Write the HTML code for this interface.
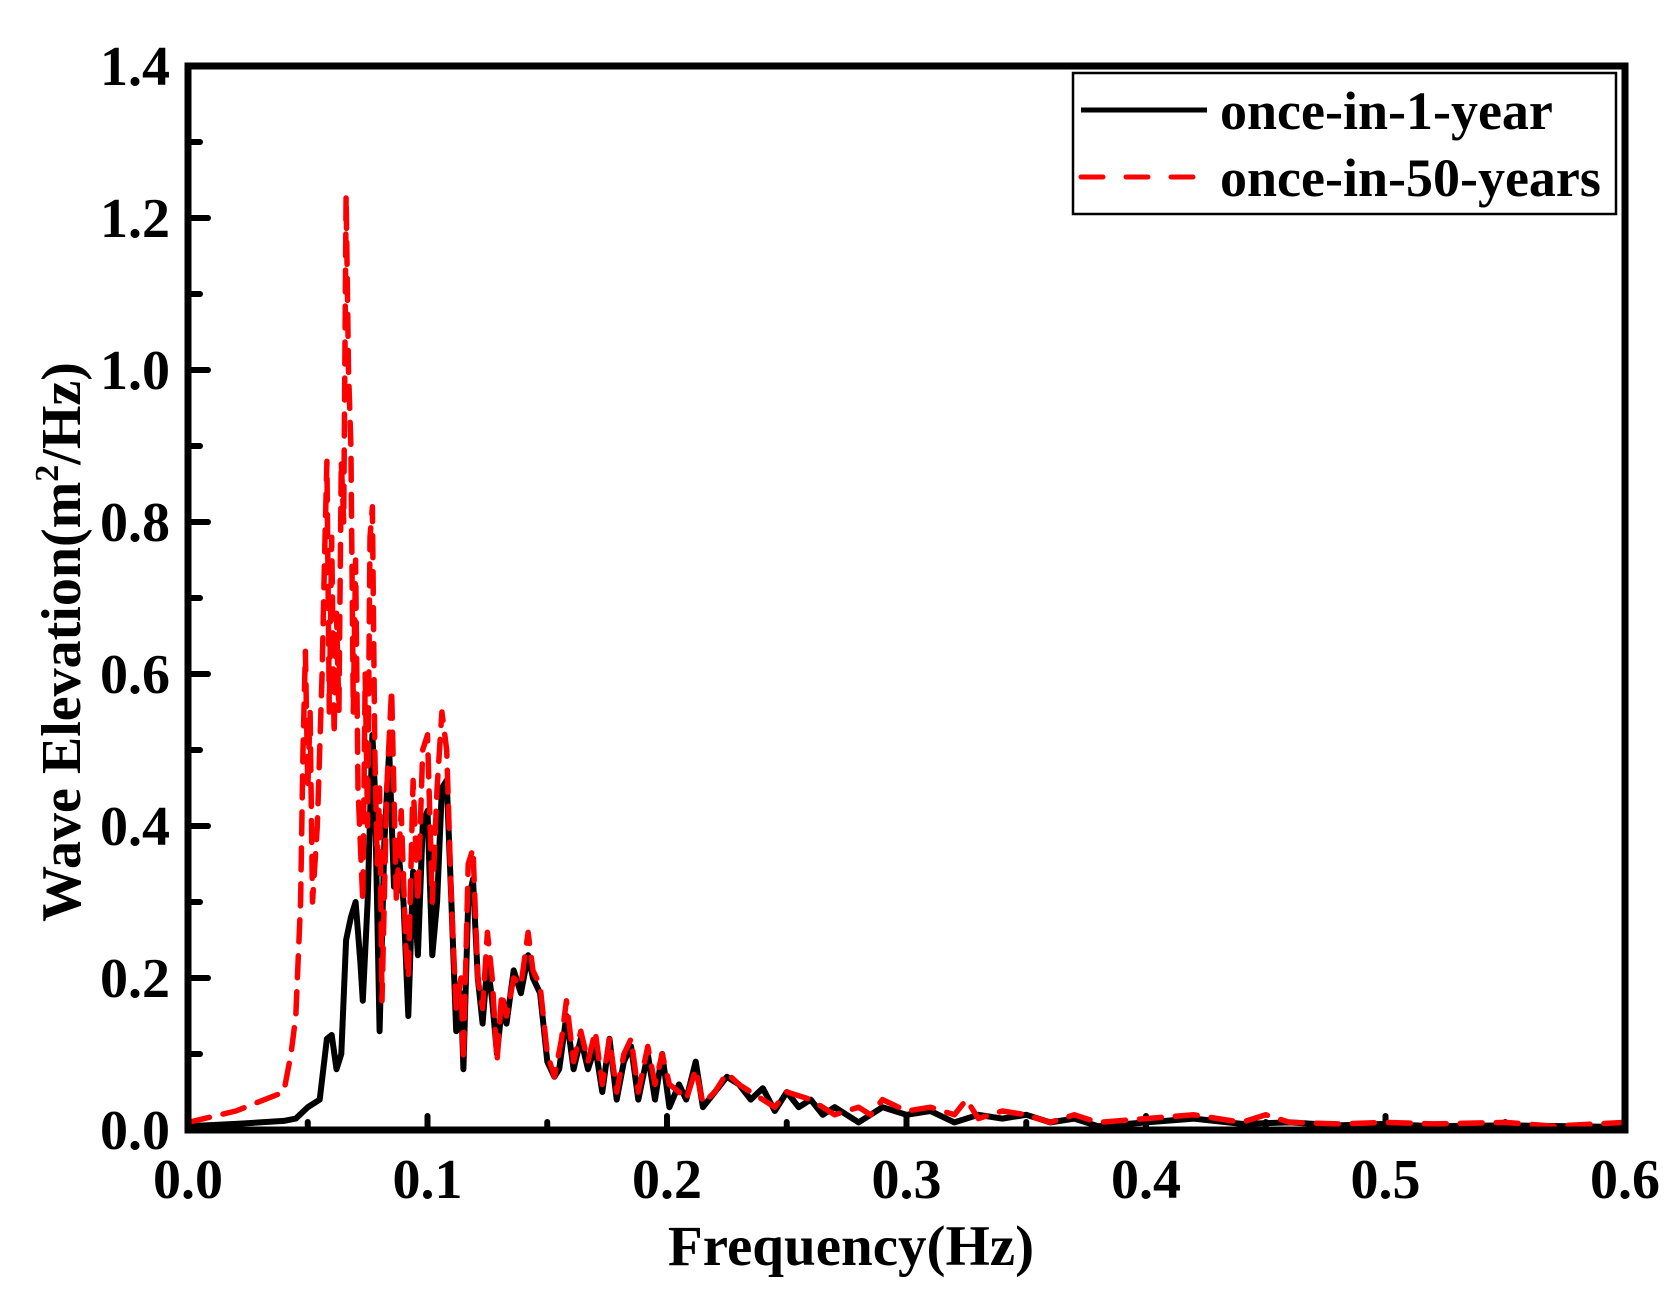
<!DOCTYPE html>
<html><head><meta charset="utf-8"><style>
html,body{margin:0;padding:0;background:#fff;}
svg{display:block;font-family:"Liberation Serif",serif;font-weight:bold;}
</style></head><body>
<svg id="s" width="1679" height="1297" viewBox="0 0 1679 1297" xmlns="http://www.w3.org/2000/svg">
<rect width="1679" height="1297" fill="#fff"/>
<g id="ticks" stroke="#000" stroke-width="6" stroke-linecap="round"></g>
<path id="blk" fill="none" stroke="#000" stroke-width="6" stroke-linejoin="round"/>
<path id="red" fill="none" stroke="#f00" stroke-width="5.5" stroke-dasharray="22 14" stroke-linecap="round" stroke-linejoin="round"/>
<rect x="188" y="66" width="1437" height="1064" fill="none" stroke="#000" stroke-width="7"/>
<g font-size="56" text-anchor="end" id="yl"></g>
<g font-size="56" text-anchor="middle" id="xl"></g>
<text x="851" y="1265" font-size="57" text-anchor="middle">Frequency(Hz)</text>
<text transform="translate(80,642) rotate(-90)" font-size="56" text-anchor="middle">Wave Elevation(m<tspan font-size="34" dy="-22">2</tspan><tspan dy="22">/Hz)</tspan></text>
<rect x="1073" y="73" width="543" height="141" fill="#fff" stroke="#000" stroke-width="2.5"/>
<line x1="1081" y1="110" x2="1207" y2="110" stroke="#000" stroke-width="5"/>
<line x1="1081" y1="177" x2="1207" y2="177" stroke="#f00" stroke-width="5" stroke-dasharray="22 23" stroke-linecap="round"/>
<text x="1220" y="129" font-size="54">once-in-1-year</text>
<text x="1220" y="196" font-size="54">once-in-50-years</text>
</svg>
<script>
var X=function(f){return 188+f*2395;},Y=function(v){return 1130-v*760;};
var b=[0,.005,.02,.008,.04,.012,.045,.015,.05,.03,.055,.04,.058,.12,.06,.125,.062,.08,.064,.1,.066,.25,.068,.28,.07,.3,.072,.22,.073,.17,.075,.3,.077,.52,.078,.45,.08,.13,.082,.38,.084,.5,.086,.32,.088,.36,.09,.3,.092,.15,.094,.34,.096,.23,.098,.4,.1,.42,.102,.23,.104,.3,.106,.45,.108,.46,.11,.3,.112,.13,.114,.18,.115,.08,.117,.3,.119,.33,.121,.2,.123,.14,.125,.22,.127,.17,.129,.1,.131,.16,.133,.14,.136,.21,.139,.18,.142,.23,.144,.2,.147,.18,.15,.09,.153,.07,.155,.08,.158,.15,.161,.08,.164,.12,.167,.08,.17,.11,.173,.05,.176,.12,.179,.04,.182,.09,.185,.11,.188,.04,.192,.1,.195,.04,.198,.1,.201,.03,.205,.06,.208,.04,.212,.09,.215,.03,.22,.05,.225,.07,.23,.06,.235,.04,.24,.055,.245,.025,.25,.05,.255,.03,.26,.04,.265,.02,.27,.03,.28,.01,.29,.03,.3,.02,.31,.025,.32,.01,.33,.02,.34,.015,.35,.02,.36,.01,.37,.015,.38,.005,.4,.01,.42,.015,.44,.008,.46,.01,.48,.006,.5,.008,.52,.005,.55,.006,.6,.004];
var r=[0,.01,.02,.025,.04,.05,.043,.1,.045,.15,.047,.3,.048,.5,.049,.63,.05,.45,.051,.55,.052,.3,.054,.4,.056,.6,.057,.75,.058,.88,.059,.55,.06,.78,.061,.52,.062,.68,.063,.55,.064,.88,.065,.8,.066,1.23,.067,1,.068,.9,.069,.55,.07,.75,.071,.45,.073,.3,.074,.6,.075,.4,.076,.78,.077,.82,.078,.5,.079,.35,.08,.45,.081,.17,.083,.45,.085,.58,.087,.3,.089,.42,.091,.24,.092,.2,.094,.46,.096,.3,.098,.5,.1,.52,.102,.3,.104,.45,.106,.55,.108,.5,.11,.3,.112,.16,.114,.2,.115,.09,.117,.35,.119,.37,.121,.2,.123,.16,.125,.26,.127,.2,.129,.09,.131,.18,.133,.15,.136,.2,.139,.19,.142,.26,.144,.21,.147,.19,.15,.1,.153,.07,.156,.12,.158,.17,.161,.09,.164,.13,.167,.09,.17,.13,.173,.06,.176,.12,.179,.05,.182,.1,.185,.12,.188,.05,.192,.11,.195,.06,.198,.1,.201,.06,.205,.05,.208,.04,.212,.08,.215,.035,.22,.05,.225,.075,.23,.06,.235,.05,.24,.04,.245,.03,.25,.05,.255,.045,.26,.04,.265,.03,.27,.02,.28,.03,.285,.02,.29,.04,.3,.025,.31,.03,.32,.02,.325,.04,.33,.015,.34,.025,.35,.02,.36,.01,.37,.02,.38,.01,.4,.015,.42,.02,.44,.01,.45,.02,.46,.01,.48,.008,.5,.01,.52,.008,.55,.01,.57,.005,.6,.01];
function P(a){var d="";for(var i=0;i<a.length;i+=2){d+=(i?"L":"M")+X(a[i]).toFixed(1)+","+Y(a[i+1]).toFixed(1);}return d;}
document.getElementById("blk").setAttribute("d",P(b));
document.getElementById("red").setAttribute("d",P(r));
var ns="http://www.w3.org/2000/svg",t=document.getElementById("ticks"),yl=document.getElementById("yl"),xl=document.getElementById("xl");
function ln(x1,y1,x2,y2){var l=document.createElementNS(ns,"line");l.setAttribute("x1",x1);l.setAttribute("y1",y1);l.setAttribute("x2",x2);l.setAttribute("y2",y2);t.appendChild(l);}
function tx(g,x,y,s){var e=document.createElementNS(ns,"text");e.setAttribute("x",x);e.setAttribute("y",y);e.textContent=s;g.appendChild(e);}
for(var i=0;i<=14;i++){var y=Y(i/10);if(i%2==0){ln(188,y,208,y);tx(yl,170,y+19,(i/10).toFixed(1));}else ln(188,y,200,y);}
for(var j=0;j<=12;j++){var x=X(j*0.05);if(j%2==0){ln(x,1130,x,1116);tx(xl,x,1198,(j*0.05).toFixed(1));}else ln(x,1130,x,1122);}
</script>
</body></html>
